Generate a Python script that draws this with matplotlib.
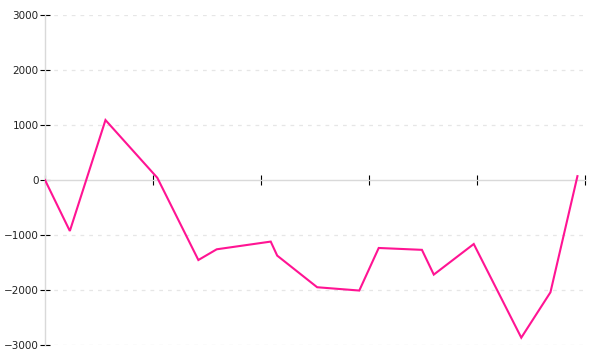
import matplotlib
matplotlib.use("Agg")
import matplotlib.pyplot as plt

x_vals = [0, 2.3, 5.6, 10.4, 14.2, 15.9, 20.9, 21.5, 25.2, 29.1, 30.9, 34.9, 36.0, 39.7, 44.1, 46.8, 49.3]
y_vals = [0, -927, 1090, 40, -1455, -1260, -1120, -1375, -1950, -2010, -1236, -1270, -1720, -1164, -2867, -2042, 70]
x_ticks = [0, 10, 20, 30, 40, 50]
y_ticks = [-3000, -2000, -1000, 0, 1000, 2000, 3000]

fig = plt.figure(figsize=(6, 3.6), dpi=100)
ax = fig.add_axes([0.075, 0.0417, 0.9, 0.9166])
ax.set_xlim(0, 50)
ax.set_ylim(-3000, 3000)

for v in y_ticks:
    if v != 0:
        ax.axhline(v, color="#e6e6e6", lw=0.9, ls=(0, (3, 4)), zorder=0)

ax.plot(x_vals, y_vals, color="#ff1493", lw=1.5, zorder=3, solid_joinstyle="miter")

for s in ["top", "right"]:
    ax.spines[s].set_visible(False)
ax.spines["left"].set_color("#d9d9d9")
ax.spines["left"].set_linewidth(1.0)
ax.spines["bottom"].set_position(("data", 0))
ax.spines["bottom"].set_color("#d9d9d9")
ax.spines["bottom"].set_linewidth(1.0)

ax.set_xticks(x_ticks)
ax.set_xticklabels([])
ax.set_yticks(y_ticks)
ax.set_yticklabels([str(v).replace("-", "\u2212") for v in y_ticks])
ax.tick_params(axis="x", direction="inout", length=7, width=0.8, color="black")
ax.tick_params(axis="y", direction="inout", length=7, width=0.8, color="black",
               labelsize=7.5, labelcolor="#222222", pad=1)

fig.savefig("out.png", dpi=100)
